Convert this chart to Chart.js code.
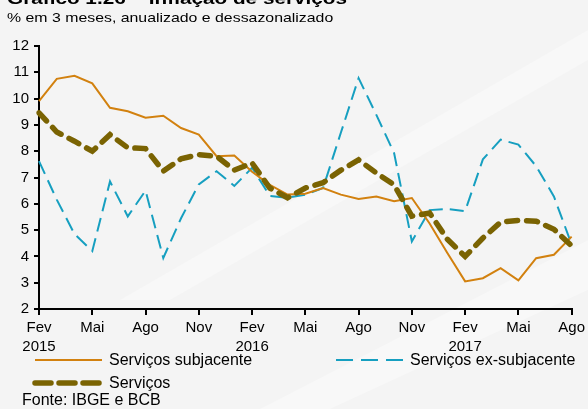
<!DOCTYPE html>
<html>
<head>
<meta charset="utf-8">
<script src="https://cdn.jsdelivr.net/npm/chart.js@4"></script>
<style>
  html, body { margin: 0; padding: 0; background: #f4f4f4; }
  #wrap { width: 588px; height: 409px; position: relative; }
</style>
</head>
<body>
<div id="wrap"><canvas id="myChart" width="588" height="409"></canvas></div>
<script>
const meses = [
  "Fev 2015", "Mar 2015", "Abr 2015", "Mai 2015", "Jun 2015", "Jul 2015",
  "Ago 2015", "Set 2015", "Out 2015", "Nov 2015", "Dez 2015", "Jan 2016",
  "Fev 2016", "Mar 2016", "Abr 2016", "Mai 2016", "Jun 2016", "Jul 2016",
  "Ago 2016", "Set 2016", "Out 2016", "Nov 2016", "Dez 2016", "Jan 2017",
  "Fev 2017", "Mar 2017", "Abr 2017", "Mai 2017", "Jun 2017", "Jul 2017",
  "Ago 2017",
];
const subjacente = [
  9.9, 10.75, 10.87, 10.58, 9.65, 9.52, 9.27, 9.35, 8.88, 8.63, 7.81, 7.84,
  7.22, 6.72, 6.35, 6.38, 6.6, 6.35, 6.18, 6.28, 6.1, 6.22, 5.25, 4.13,
  3.05, 3.17, 3.55, 3.09, 3.93, 4.06, 4.75,
];
const exSubjacente = [
  7.62, 6.16, 4.85, 4.2, 6.85, 5.52, 6.5, 3.94, 5.45, 6.74, 7.24, 6.68,
  7.37, 6.3, 6.23, 6.35, 6.6, 8.7, 10.78, 9.38, 7.93, 4.57, 5.76, 5.8,
  5.72, 7.69, 8.44, 8.25, 7.43, 6.28, 4.45,
];
const servicos = [
  9.46, 8.73, 8.38, 8.0, 8.63, 8.13, 8.1, 7.24, 7.71, 7.87, 7.81, 7.28,
  7.55, 6.6, 6.23, 6.6, 6.8, 7.28, 7.67, 7.17, 6.72, 5.53, 5.65, 4.65,
  4.0, 4.7, 5.3, 5.37, 5.34, 5.03, 4.4,
];
const yTicks = [2, 3, 4, 5, 6, 7, 8, 9, 10, 11, 12];

const fonte = "'Liberation Sans', Arial, sans-serif";

// text drawn a bit wider than normal, like the reference
function textoLargo(c, txt, x, y, esticar) {
  c.save();
  c.translate(x, y);
  c.scale(esticar, 1);
  c.fillText(txt, 0, 0);
  c.restore();
}

const textos = {
  id: "textos",
  beforeDraw(chart) {
    const c = chart.ctx;
    c.save();
    c.fillStyle = "#f4f4f4";
    c.fillRect(0, 0, chart.width, chart.height);
    // faint white streaks of the background
    c.fillStyle = "rgba(255,255,255,0.35)";
    c.beginPath();
    c.moveTo(260, 409); c.lineTo(588, 240); c.lineTo(588, 290); c.lineTo(330, 409);
    c.fill();
    c.beginPath();
    c.moveTo(120, 300); c.lineTo(588, 30); c.lineTo(588, 60); c.lineTo(170, 300);
    c.fill();
    c.restore();
  },
  afterDraw(chart) {
    const c = chart.ctx;
    c.save();
    c.fillStyle = "#000";
    c.textBaseline = "alphabetic";
    c.font = "bold 17px " + fonte;
    textoLargo(c, "Gráfico 1.26 – Inflação de serviços", 7, 4, 1.22);
    c.font = "13px " + fonte;
    textoLargo(c, "% em 3 meses, anualizado e dessazonalizado", 7, 22, 1.22);

    // legend
    const ds = chart.data.datasets;
    const itens = [
      { d: ds[1], x: 35, y: 360 },
      { d: ds[2], x: 336, y: 360 },
      { d: ds[0], x: 35, y: 383 },
    ];
    c.font = "16px " + fonte;
    c.textBaseline = "middle";
    itens.forEach((it) => {
      c.beginPath();
      c.strokeStyle = it.d.borderColor;
      c.lineWidth = it.d.borderWidth;
      c.lineCap = it.d.borderCapStyle || "butt";
      c.setLineDash(it.d.legendDash || []);
      c.moveTo(it.x, it.y);
      c.lineTo(it.x + 67, it.y);
      c.stroke();
      c.setLineDash([]);
      c.fillStyle = "#000";
      c.fillText(it.d.label, it.x + 74, it.y + 1);
    });
    c.fillText("Fonte: IBGE e BCB", 22, 401);
    c.restore();
  },
};

new Chart("myChart", {
  type: "line",
  data: {
    labels: meses,
    datasets: [
      {
        label: "Serviços",
        data: servicos,
        borderColor: "#7a6302",
        borderWidth: 5.5,
        borderDash: [11, 9],
        legendDash: [16, 8],
        borderCapStyle: "round",
        pointRadius: 0,
        tension: 0,
        order: 0,
      },
      {
        label: "Serviços subjacente",
        data: subjacente,
        borderColor: "#d2810f",
        borderWidth: 2,
        pointRadius: 0,
        tension: 0,
        order: 1,
      },
      {
        label: "Serviços ex-subjacente",
        data: exSubjacente,
        borderColor: "#169fc0",
        borderWidth: 2,
        borderDash: [14, 7],
        legendDash: [17, 8],
        pointRadius: 0,
        tension: 0,
        order: 2,
      },
    ],
  },
  options: {
    responsive: false,
    animation: false,
    layout: { padding: { top: 46, right: 15, left: 0, bottom: 0 } },
    plugins: {
      legend: { display: false },
      title: { display: false },
      tooltip: { enabled: false },
    },
    scales: {
      x: {
        offset: false,
        afterFit: (s) => { s.height = 100; },
        border: { color: "#000", width: 2 },
        grid: {
          drawOnChartArea: false,
          tickLength: 6,
          lineWidth: 2,
          color: (ctx) => (ctx.index % 3 === 0 ? "#000" : "rgba(0,0,0,0)"),
        },
        ticks: {
          autoSkip: false,
          maxRotation: 0,
          padding: 3,
          color: "#000",
          font: { family: fonte, size: 15, lineHeight: 1.3 },
          callback: function (v, i) {
            if (i % 3 !== 0) return "";
            const [m, a] = meses[i].split(" ");
            return m === "Fev" ? [m, a] : m;
          },
        },
      },
      y: {
        min: 2,
        max: 12,
        afterFit: (s) => { s.width = 39; },
        afterBuildTicks: (s) => { s.ticks = yTicks.map((v) => ({ value: v })); },
        border: { color: "#000", width: 2 },
        grid: { drawOnChartArea: false, tickLength: 5, lineWidth: 2, color: "#000" },
        ticks: {
          padding: 5,
          color: "#000",
          font: { family: fonte, size: 15 },
        },
      },
    },
  },
  plugins: [textos],
});
</script>
</body>
</html>
